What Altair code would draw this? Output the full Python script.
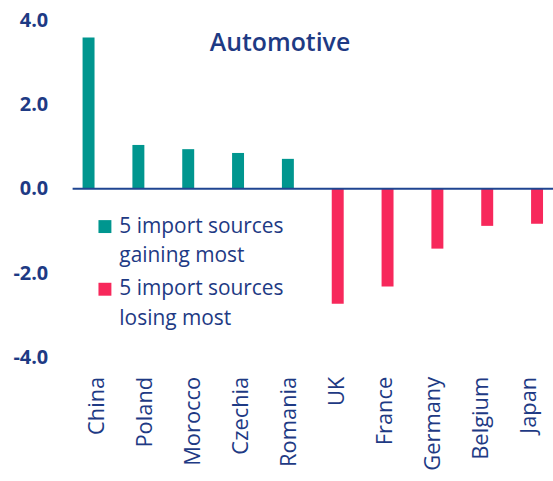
import altair as alt
import pandas as pd

countries = ["China", "Poland", "Morocco", "Czechia", "Romania",
             "UK", "France", "Germany", "Belgium", "Japan"]
values = [3.59, 1.04, 0.94, 0.85, 0.71, -2.73, -2.32, -1.42, -0.88, -0.83]
groups = ["5 import sources|gaining most"] * 5 + ["5 import sources|losing most"] * 5
group_order = ["5 import sources|gaining most", "5 import sources|losing most"]
colors = ["#00968F", "#F7285B"]
y_ticks = [-4, -2, 0, 2, 4]

df = pd.DataFrame({"country": countries, "value": values, "group": groups})

NAVY = "#1E3A84"
FONT = "Open Sans"

bars = alt.Chart(df).mark_bar().encode(
    x=alt.X("country:N", sort=countries,
            scale=alt.Scale(paddingInner=0.76, paddingOuter=0.2),
            axis=None),
    y=alt.Y("value:Q", scale=alt.Scale(domain=[-4, 4], nice=False),
            axis=alt.Axis(title=None, values=y_ticks, grid=False,
                          labelExpr="replace(format(datum.value, '.1f'), '\u2212', '-')",
                          domain=False, ticks=False, labelPadding=25,
                          labelFontSize=20, labelColor=NAVY, labelFont=FONT,
                          labelFontWeight="bold")),
    color=alt.Color("group:N", scale=alt.Scale(domain=group_order, range=colors),
                    legend=alt.Legend(title=None, orient="none", legendX=22, legendY=197,
                                      labelExpr="split(datum.label, '|')",
                                      labelFontSize=21, labelColor=NAVY, labelFont=FONT,
                                      labelFontWeight="normal", symbolType="square",
                                      symbolSize=169, symbolStrokeWidth=0,
                                      symbolOpacity=1, rowPadding=11, labelOffset=4,
                                      padding=0, labelLimit=400)),
)

labels = alt.Chart(df).mark_tick(opacity=0).encode(
    x=alt.X("country:N", sort=countries,
            scale=alt.Scale(type="point", padding=0.5),
            axis=alt.Axis(title=None, orient="bottom", labelAngle=-90, labelAlign="right",
                          labelBaseline="middle", labelPadding=19,
                          domain=False, ticks=False, labelFontSize=22,
                          labelColor=NAVY, labelFont=FONT, labelFontWeight=500)),
    y=alt.Y("value:Q"),
)

zero = alt.Chart(pd.DataFrame({"y": [0]})).mark_rule(color="#1F4591", strokeWidth=2).encode(
    y="y:Q"
)

chart = alt.layer(bars, zero, labels).resolve_scale(x="independent").properties(
    width=483, height=339,
    title=alt.TitleParams("Automotive", anchor="middle", dx=-33, dy=46, offset=0,
                          fontSize=25, font=FONT, fontWeight=600, color=NAVY),
    autosize=alt.AutoSizeParams(type="none"),
    padding={"left": 73, "top": 19, "right": 0, "bottom": 123},
).configure(
    style={"guide-label": {"lineHeight": 30}}
).configure_view(stroke=None)

chart.save("out.html", embed_options={"renderer": "svg", "actions": False})
